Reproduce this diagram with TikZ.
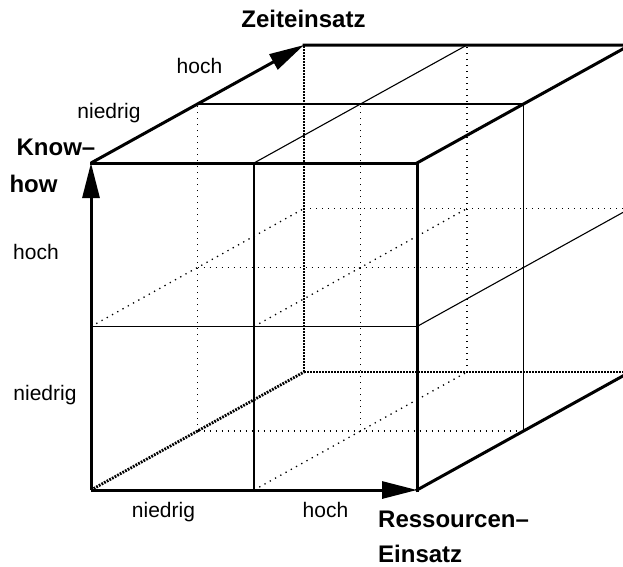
\documentclass[tikz,border=0pt]{standalone}
\usepackage{fontspec}
\setmainfont{Liberation Sans}
\usetikzlibrary{arrows.meta}
\begin{document}
\begin{tikzpicture}[x=1pt,y=-1pt,
  thickline/.style={line width=3pt, line cap=rect, line join=miter},
  thinline/.style={line width=1.1pt},
  hidden/.style={line width=2.8pt, dash pattern=on 1.8pt off 1.2pt},
  gridhidden/.style={line width=1.3pt, dash pattern=on 1.3pt off 4.7pt},
  axis/.style={line width=3pt, -{Triangle[length=35pt,width=17pt]}},
  lbl/.style={font=\fontsize{21}{24}\selectfont, inner sep=0pt, anchor=base},
  title/.style={font=\fontsize{24}{28}\selectfont\bfseries, inner sep=0pt, anchor=base},
]
\useasboundingbox (0,0) rectangle (623,566);
\begin{scope}
\clip (0,0) rectangle (623,566);
% grid points of the cube: i = resources, j = know-how, k = time
\foreach \i in {0,1,2} \foreach \j in {0,1,2} \foreach \k in {0,1,2}
  \coordinate (p\i\j\k) at ({91+163*\i+106.5*\k},{490-163.5*\j-59*\k});

% hidden inner lines
\draw[gridhidden] (p102) -- (p122);
\draw[gridhidden] (p012) -- (p212);
\draw[gridhidden] (p001) -- (p021);
\draw[gridhidden] (p101) -- (p121);
\draw[gridhidden] (p001) -- (p201);
\draw[gridhidden] (p011) -- (p211);
\draw[gridhidden] (p010) -- (p012);
\draw[gridhidden] (p110) -- (p112);
\draw[gridhidden] (p100) -- (p102);

% hidden edges
\draw[hidden] (p000) -- (p002);
\draw[hidden] (p002) -- (p022);
\draw[hidden] (p002) -- (p202);

% visible dividing lines
\draw[thinline] (p100) -- (p120);
\draw[thinline] (p010) -- (p210);
\draw[thinline] (p021) -- (p221);
\draw[thinline] (p120) -- (p122);
\draw[thinline] (p201) -- (p221);
\draw[thinline] (p210) -- (p212);

% visible edges
\draw[thickline] (p020) -- (p220) -- (p200);
\draw[thickline] (p022) -- (p222) -- (p220);
\draw[thickline] (p200) -- (p202) -- (p222);

% axes
\draw[axis] (p000) -- (p200);
\draw[axis] (p000) -- (p020);
\draw[axis] (p020) -- (p022);
\end{scope}

% labels
\node[title] (tz) at (303.5,27) {Zeiteinsatz};
\node[lbl] (zh) at (199.5,73) {hoch};
\node[lbl] (zn) at (109,118) {niedrig};
\node[title] (kh1) at (56,155) {Know–};
\node[title] (kh2) at (33.5,192) {how};
\node[lbl] (kh) at (36,259) {hoch};
\node[lbl] (kn) at (45,400) {niedrig};
\node[lbl] (rn) at (163.5,517) {niedrig};
\node[lbl] (rh) at (325.5,517) {hoch};
\node[title, anchor=base west] (re1) at (378,527) {Ressourcen–};
\node[title, anchor=base west] (re2) at (378,562) {Einsatz};
\end{tikzpicture}
\end{document}
